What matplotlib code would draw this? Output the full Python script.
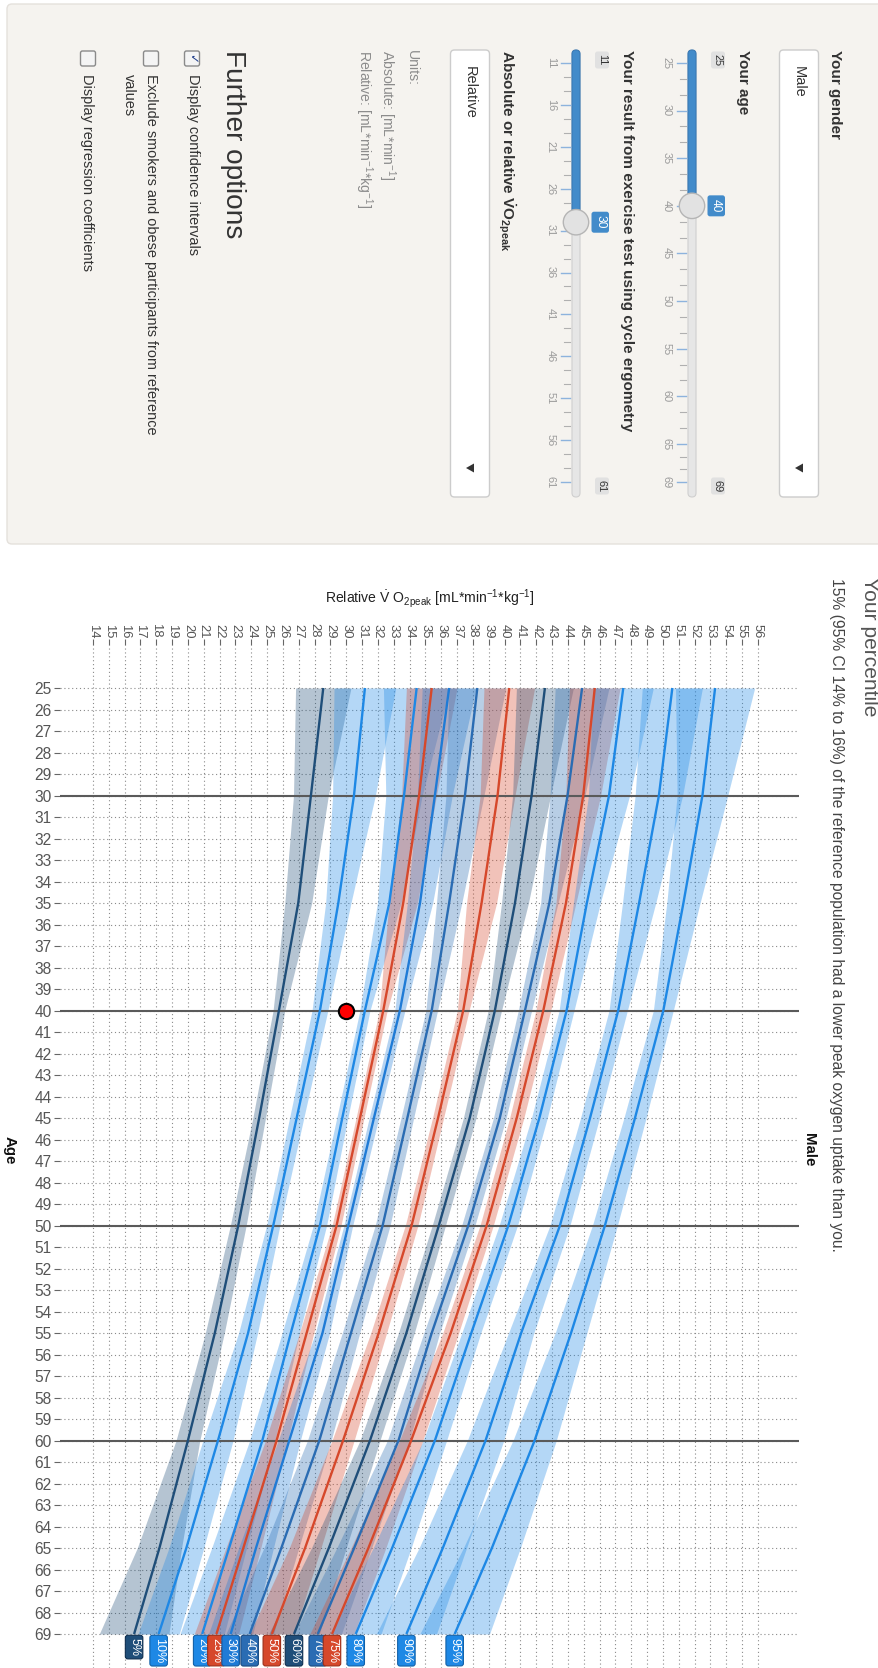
import matplotlib
matplotlib.use('Agg')
import matplotlib.pyplot as plt
from matplotlib.patches import FancyBboxPatch, Circle, Polygon

plt.rcParams['font.family'] = ['Liberation Sans', 'DejaVu Sans']
plt.rcParams['mathtext.fontset'] = 'custom'
plt.rcParams['mathtext.rm'] = 'Liberation Sans'
plt.rcParams['mathtext.it'] = 'Liberation Sans:italic'
plt.rcParams['mathtext.bf'] = 'Liberation Sans:bold'

# ---------------- data ----------------
ages = [25, 30, 35, 40, 45, 50, 55, 60, 65, 69]
percentile_labels = ['5%', '10%', '20%', '25%', '30%', '40%', '50%',
                     '60%', '70%', '75%', '80%', '90%', '95%']
p05 = [28.55, 27.77, 26.97, 25.75, 24.5, 23.18, 21.7, 20.0, 18.2, 16.6]
p10 = [31.18, 30.49, 29.5, 28.34, 26.87, 25.39, 23.8, 21.9, 19.9, 18.15]
p20 = [34.45, 33.65, 32.72, 31.18, 29.75, 28.34, 26.5, 24.7, 22.6, 20.9]
p25 = [35.4, 34.6, 33.6, 32.34, 30.87, 29.39, 27.5, 25.6, 23.5, 21.8]
p30 = [36.5, 35.6, 34.66, 33.39, 31.75, 30.13, 28.5, 26.4, 24.3, 22.7]
p40 = [38.28, 37.5, 36.5, 35.4, 33.86, 32.3, 30.3, 28.3, 25.9, 23.9]
p50 = [40.3, 39.56, 38.55, 37.39, 35.8, 34.13, 32.05, 29.8, 27.4, 25.3]
p60 = [42.55, 41.71, 40.66, 39.39, 37.8, 35.85, 33.8, 31.5, 28.9, 26.7]
p70 = [44.9, 43.98, 42.83, 41.29, 39.7, 37.71, 35.4, 33.3, 30.5, 28.2]
p75 = [45.7, 44.97, 43.88, 42.45, 40.77, 38.87, 36.6, 34.1, 31.4, 29.1]
p80 = [47.5, 46.6, 45.2, 43.92, 42.2, 40.24, 37.9, 35.6, 32.9, 30.6]
p90 = [50.6, 49.75, 48.5, 47.18, 45.4, 43.5, 41.05, 38.8, 36.1, 33.8]
p95 = [53.3, 52.5, 51.3, 50.03, 48.24, 46.34, 44.2, 41.9, 39.2, 36.85]

# half width of the 95% confidence band
ci05 = [1.75, 1.1, 0.85, 0.37, 0.4, 0.5, 0.6, 0.75, 1.4, 2.2]
ci10 = [1.95, 1.35, 0.8, 0.5, 0.45, 0.42, 0.6, 0.95, 1.1, 1.3]
ci20 = [2.1, 1.15, 0.75, 0.32, 0.35, 0.42, 0.55, 0.8, 1.1, 1.4]
ci25 = [1.6, 1.1, 0.9, 0.25, 0.25, 0.28, 0.45, 0.7, 1.1, 1.4]
ci30 = [1.7, 1.1, 0.8, 0.32, 0.3, 0.28, 0.45, 0.7, 1.1, 1.4]
ci40 = [1.8, 1.2, 0.8, 0.37, 0.4, 0.47, 0.55, 0.75, 1.1, 1.5]
ci50 = [1.6, 1.1, 0.95, 0.37, 0.35, 0.4, 0.5, 0.7, 1.0, 1.4]
ci60 = [1.8, 1.2, 0.85, 0.42, 0.4, 0.42, 0.5, 0.63, 1.1, 1.6]
ci70 = [1.7, 1.1, 0.55, 0.42, 0.4, 0.42, 0.5, 0.7, 1.1, 1.5]
ci75 = [1.6, 1.1, 0.63, 0.47, 0.45, 0.42, 0.5, 0.74, 1.1, 1.4]
ci80 = [1.9, 1.3, 0.85, 0.47, 0.5, 0.58, 0.6, 0.74, 1.2, 1.6]
ci90 = [1.9, 1.5, 1.05, 0.58, 0.6, 0.63, 0.8, 1.15, 1.5, 1.9]
ci95 = [2.5, 1.6, 1.05, 0.63, 0.7, 0.79, 1.0, 1.37, 1.8, 2.2]

line_colors = ['#1f4e79', '#1e88e5', '#1e88e5', '#d6482b', '#1f7bd6',
               '#2a6cb3', '#d6482b', '#1f4e79', '#2a6cb3', '#d6482b',
               '#1e88e5', '#1e88e5', '#1e88e5']
edge_colors = ['#0e2e4f', '#1261a8', '#1261a8', '#9c2e18', '#155a9e',
               '#1b4a80', '#9c2e18', '#0e2e4f', '#1b4a80', '#9c2e18',
               '#1261a8', '#1261a8', '#1261a8']

user_age = 40
user_vo2 = 30
vo2_ticks = list(range(14, 57))
age_ticks = list(range(25, 70))
decade_lines = [30, 40, 50, 60]

age_slider_labels = [25, 30, 35, 40, 45, 50, 55, 60, 65, 69]
vo2_slider_labels = [11, 16, 21, 26, 31, 36, 41, 46, 51, 56, 61]

percentile_series = [p05, p10, p20, p25, p30, p40, p50, p60, p70, p75, p80, p90, p95]
ci_series = [ci05, ci10, ci20, ci25, ci30, ci40, ci50, ci60, ci70, ci75, ci80, ci90, ci95]

# ---------------- figure ----------------
W, H = 879, 1668
PX = 0.72  # points per pixel at dpi 100
fig = plt.figure(figsize=(W / 100, H / 100), dpi=100)
fig.patch.set_facecolor('white')

ov = fig.add_axes([0, 0, 1, 1])
ov.set_xlim(0, W)
ov.set_ylim(H, 0)
ov.axis('off')


def rtext(x, y, s, size, color='#333', weight='normal', va='top', ha='center', **kw):
    ov.text(x, y, s, rotation=270, fontsize=size * PX, color=color,
            fontweight=weight, va=va, ha=ha, **kw)


# sidebar panel
ov.add_patch(FancyBboxPatch((7, 4), W, 540, boxstyle='round,pad=0,rounding_size=5',
                            fc='#f5f3ef', ec='#e4e1dc', lw=1))

LBL = 15.3
rtext(835, 50, 'Your gender', LBL, weight='bold')


def select_box(xc, text):
    ov.add_patch(FancyBboxPatch((xc - 19.5, 50), 39, 447,
                                boxstyle='round,pad=0,rounding_size=4',
                                fc='white', ec='#cccccc', lw=1))
    rtext(xc, 66, text, 14.5, color='#333')
    ov.add_patch(Polygon([(xc - 4, 468), (xc + 4, 463.5), (xc + 4, 472.5)],
                         closed=True, fc='#333', ec='none'))


select_box(799, 'Male')
rtext(743, 50, 'Your age', LBL, weight='bold')


def slider(xc, vmin, vmax, val, labels):
    ya, yb = 63, 482
    f = lambda v: ya + (v - vmin) / (vmax - vmin) * (yb - ya)
    ov.add_patch(FancyBboxPatch((xc - 4, 50), 8, 447,
                                boxstyle='round,pad=0,rounding_size=4',
                                fc='#e6e6e6', ec='#cfcfcf', lw=0.8))
    ov.add_patch(FancyBboxPatch((xc - 4, 50), 8, f(val) - 50,
                                boxstyle='round,pad=0,rounding_size=4',
                                fc='#428bca', ec='#3a7ab5', lw=0.8))
    for i, v in enumerate(labels):
        y = f(v)
        ov.plot([xc - 15, xc - 6], [y, y], color='#8db3dd', lw=1.0)
        ov.text(xc - 25, y, str(v), rotation=270, fontsize=11 * PX, color='#9a9a9a',
                ha='center', va='center')
        if i < len(labels) - 1:
            nxt = f(labels[i + 1])
            for k in (1, 2):
                ym = y + (nxt - y) * k / 3
                ov.plot([xc - 12, xc - 6], [ym, ym], color='#b0b0b0', lw=0.8)
    # min / max badges
    for v, y in ((vmin, 60), (vmax, 486)):
        ov.add_patch(FancyBboxPatch((xc + 19, y - 8.5), 14, 17,
                                    boxstyle='round,pad=0,rounding_size=2.5',
                                    fc='#e1e1e1', ec='none'))
        ov.text(xc + 26, y, str(v), rotation=270, fontsize=11 * PX, color='#333',
                ha='center', va='center')
    yv = f(val)
    ov.add_patch(FancyBboxPatch((xc + 15.5, yv - 10.5), 17.5, 21,
                                boxstyle='round,pad=0,rounding_size=2.5',
                                fc='#428bca', ec='none'))
    ov.text(xc + 24.2, yv, str(val), rotation=270, fontsize=12 * PX, color='white',
            ha='center', va='center')
    ov.add_patch(Circle((xc, yv), 12.7, fc='#e2e2e2', ec='#b5b5b5', lw=1, zorder=5))


slider(692, 25, 69, user_age, age_slider_labels)
rtext(627, 50, 'Your result from exercise test using cycle ergometry', LBL, weight='bold')
slider(576, 11, 61, user_vo2, vo2_slider_labels)

rtext(507, 50, r'Absolute or relative $\mathbf{\dot{V}O}_{\mathbf{2peak}}$', LBL, weight='bold')
select_box(470, 'Relative')

rtext(412, 50, 'Units:', 14, color='#8c8c8c')
rtext(387, 50, r'Absolute: [mL*min$^{-1}$]', 14, color='#8c8c8c')
rtext(364, 50, r'Relative: [mL*min$^{-1}$*kg$^{-1}$]', 14, color='#8c8c8c')

rtext(233, 50, 'Further options', 28, color='#333')


def checkbox(xc, checked):
    ov.add_patch(FancyBboxPatch((xc - 7.5, 51), 15, 15,
                                boxstyle='round,pad=0,rounding_size=2',
                                fc='#f4f4f4', ec='#8a8a8a', lw=1))
    if checked:
        ov.text(xc, 58.5, '\u2713', rotation=270, fontsize=12 * PX, color='#1f3d8a',
                ha='center', va='center', family='DejaVu Sans', fontweight='bold')


checkbox(192, True)
rtext(193, 74, 'Display confidence intervals', 14.5)
checkbox(151, False)
rtext(151, 74, 'Exclude smokers and obese participants from reference', 14.5)
rtext(129, 74, 'values', 14.5)
checkbox(88, False)
rtext(87, 74, 'Display regression coefficients', 14.5)

# headline text
rtext(870, 577, 'Your percentile', 21, color='#555')
rtext(837, 578, '15% (95% CI 14% to 16%) of the reference population had a lower '
                'peak oxygen uptake than you.', 15.6, color='#444')

# chart titles
ov.text(430, 599, r'Relative $\dot{\mathrm{V}}\ \mathrm{O}_{\mathrm{2peak}}$ [mL*min$^{-1}$*kg$^{-1}$]',
        fontsize=14 * PX, color='#222', ha='center', va='center')
ov.text(809, 1150, 'Male', rotation=270, fontsize=15 * PX, fontweight='bold',
        ha='center', va='center', color='#111')
ov.text(10, 1150, 'Age', rotation=270, fontsize=15 * PX, fontweight='bold',
        ha='center', va='center', color='#111')

# ---------------- chart axes ----------------
L, R, T = 60, 799, 645
ax = fig.add_axes([L / W, 0, (R - L) / W, (H - T) / H])
ax.set_facecolor('none')
ax.set_xlim(11.92, 58.6)
ax.set_ylim(70.58, 23.0)
for s in ax.spines.values():
    s.set_visible(False)

for v in vo2_ticks:
    ax.axvline(v, color='#8a8a8a', lw=0.8, ls=(0, (1, 2.5)), zorder=0)
for a in age_ticks:
    ax.axhline(a, color='#8a8a8a', lw=0.8, ls=(0, (1, 2.5)), zorder=0)

for vals, ci, c in zip(percentile_series, ci_series, line_colors):
    lo = [v - h for v, h in zip(vals, ci)]
    hi = [v + h for v, h in zip(vals, ci)]
    ax.fill_betweenx(ages, lo, hi, color=c, alpha=0.33, lw=0, zorder=2)

for a in decade_lines:
    ax.axhline(a, color='#5a5a5a', lw=1.5, zorder=3)

for vals, c in zip(percentile_series, line_colors):
    ax.plot(vals, ages, color=c, lw=1.7, zorder=4, solid_capstyle='butt')

ax.plot(user_vo2, user_age, 'o', ms=11, mfc='#ff0000', mec='black', mew=1.5, zorder=6)

for lab, vals, c, ec in zip(percentile_labels, percentile_series, line_colors, edge_colors):
    ax.annotate(lab, xy=(vals[-1], ages[-1]), xytext=(0, -4 * PX),
                textcoords='offset points', rotation=270, ha='center', va='top',
                fontsize=12.5 * PX, color='white', annotation_clip=False,
                bbox=dict(boxstyle='round,pad=0.22,rounding_size=0.2', fc=c, ec=ec, lw=0.8),
                zorder=7)

ax.xaxis.tick_top()
ax.set_xticks(vo2_ticks)
ax.set_xticklabels([str(v) for v in vo2_ticks])
ax.tick_params(axis='x', top=True, bottom=False, labeltop=True, labelbottom=False,
               labelrotation=-90, length=4, width=0.8, color='#666', pad=1,
               labelsize=13 * PX, labelcolor='#555')
ax.set_yticks(age_ticks)
ax.set_yticklabels([str(a) for a in age_ticks])
ax.tick_params(axis='y', length=4, width=0.8, color='#666', pad=2,
               labelsize=15.5 * PX, labelcolor='#555')

fig.savefig('out.png', dpi=100)
